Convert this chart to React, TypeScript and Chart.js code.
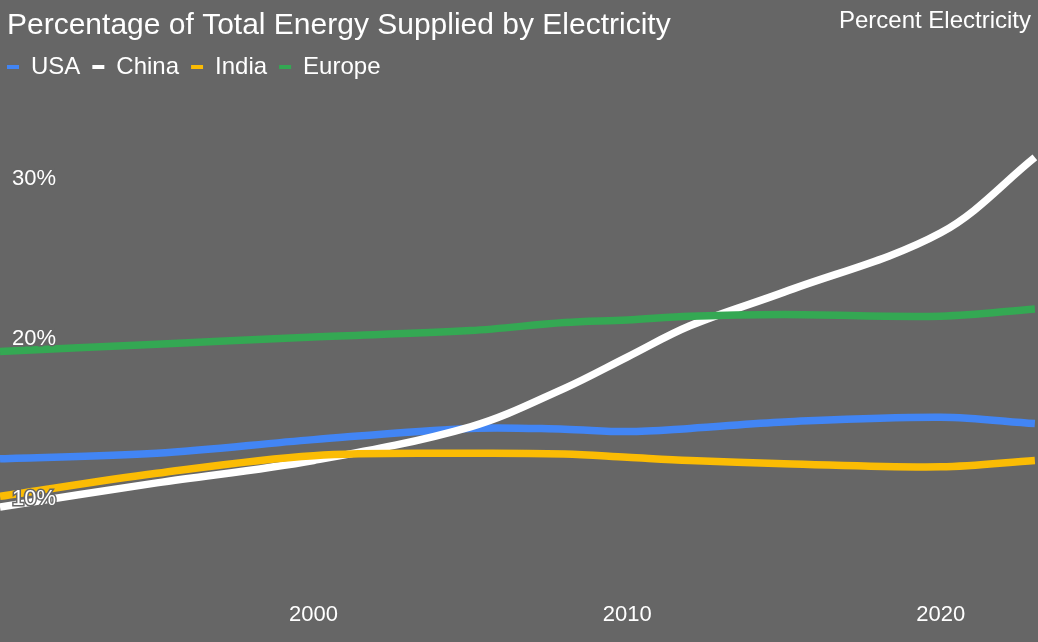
import React, { useEffect, useRef } from 'react';
import { Chart, registerables } from 'chart.js';

Chart.register(...registerables);

const TITLE = 'Percentage of Total Energy Supplied by Electricity';
const SUBTITLE = 'Percent Electricity';

const years = [1990, 1995, 2000, 2005, 2008, 2010, 2012, 2015, 2020, 2023];
const seriesNames = ['USA', 'China', 'India', 'Europe'];
const usa = [12.4, 12.75, 13.6, 14.3, 14.25, 14.1, 14.3, 14.7, 15.0, 14.6];
const china = [9.4, 10.9, 12.3, 14.4, 16.8, 18.75, 20.7, 22.8, 26.5, 31.2];
const india = [10.06, 11.5, 12.6, 12.75, 12.7, 12.5, 12.3, 12.1, 11.9, 12.3];
const europe = [19.1, 19.55, 20.0, 20.4, 20.9, 21.06, 21.3, 21.4, 21.3, 21.75];
const yTickValues = [10, 20, 30];
const xTickValues = [2000, 2010, 2020];

const COLORS = ['#4285F4', '#FFFFFF', '#FBBC04', '#34A853'];
const BG = '#666666';
const FONT = "'Liberation Sans', Arial, sans-serif";

const cornerPlugin = {
  id: 'cornerPlugin',
  afterLayout(chart: any) {
    const t = chart.titleBlock;
    if (t) {
      t.left += 7;
      t.right += 7;
      t.top += 1;
      t.bottom += 1;
    }
    const l = chart.legend;
    if (l) {
      l.left -= 5;
      l.right -= 5;
    }
  },
  afterDraw(chart: any) {
    const ctx = chart.ctx;
    ctx.save();
    ctx.font = `24px ${FONT}`;
    ctx.fillStyle = '#FFFFFF';
    ctx.textAlign = 'right';
    ctx.textBaseline = 'middle';
    ctx.fillText(SUBTITLE, chart.width - 7, 21);
    ctx.restore();
  },
};

export default function App() {
  const canvasRef = useRef<HTMLCanvasElement | null>(null);

  useEffect(() => {
    if (!canvasRef.current) return;
    const all = [usa, china, india, europe];
    const datasets = seriesNames.map((name, i) => ({
      label: name,
      data: years.map((yr, j) => ({ x: yr, y: all[i][j] })),
      borderColor: COLORS[i],
      backgroundColor: COLORS[i],
      borderWidth: 7.5,
      pointRadius: 0,
      pointHoverRadius: 0,
      tension: 0.35,
      fill: false,
      order: seriesNames.length - i,
    }));

    const chart = new Chart(canvasRef.current, {
      type: 'line',
      data: { datasets },
      plugins: [cornerPlugin],
      options: {
        animation: false,
        responsive: true,
        maintainAspectRatio: false,
        layout: { padding: 0 },
        plugins: {
          title: {
            display: true,
            text: TITLE,
            align: 'start',
            color: '#FFFFFF',
            font: { family: FONT, size: 30, weight: 'normal' },
            padding: { top: 7, bottom: 0 },
          },
          legend: {
            display: true,
            position: 'top',
            align: 'start',
            labels: {
              color: '#FFFFFF',
              font: { family: FONT, size: 24 },
              boxWidth: 12,
              boxHeight: 4,
              padding: 12,
              sort: (a: any, b: any) => a.datasetIndex - b.datasetIndex,
              generateLabels: (c: any) =>
                (Chart.defaults.plugins.legend.labels.generateLabels as any)(c).map((it: any) => ({
                  ...it,
                  fillStyle: COLORS[it.datasetIndex],
                  strokeStyle: COLORS[it.datasetIndex],
                  lineWidth: 0,
                })),
            },
          },
          tooltip: { enabled: false },
        },
        scales: {
          x: {
            type: 'linear',
            min: 1990,
            max: 2023.1,
            grid: { display: false },
            border: { display: false },
            ticks: {
              color: '#FFFFFF',
              font: { family: FONT, size: 22 },
              padding: 14,
              autoSkip: false,
              maxRotation: 0,
              callback: (v: any) => String(v),
            },
            afterBuildTicks: (s: any) => {
              s.ticks = xTickValues.map((v) => ({ value: v }));
            },
            afterFit: (s: any) => {
              s.height = 62;
            },
          },
          y: {
            type: 'linear',
            min: 4.844,
            max: 35.469,
            grid: { display: false },
            border: { display: false },
            ticks: {
              z: 1,
              mirror: true,
              padding: 12,
              labelOffset: 2,
              color: '#FFFFFF',
              font: { family: FONT, size: 22 },
              textStrokeColor: BG,
              textStrokeWidth: 3,
              callback: (v: any) => `${v}%`,
            },
            afterBuildTicks: (s: any) => {
              s.ticks = yTickValues.map((v) => ({ value: v }));
            },
            afterFit: (s: any) => {
              s.width = 0;
            },
          },
        },
      } as any,
    });
    return () => chart.destroy();
  }, []);

  return (
    <div
      style={{
        position: 'fixed',
        left: 0,
        top: 0,
        width: 1038,
        height: 642,
        background: BG,
      }}
    >
      <canvas ref={canvasRef} />
    </div>
  );
}
